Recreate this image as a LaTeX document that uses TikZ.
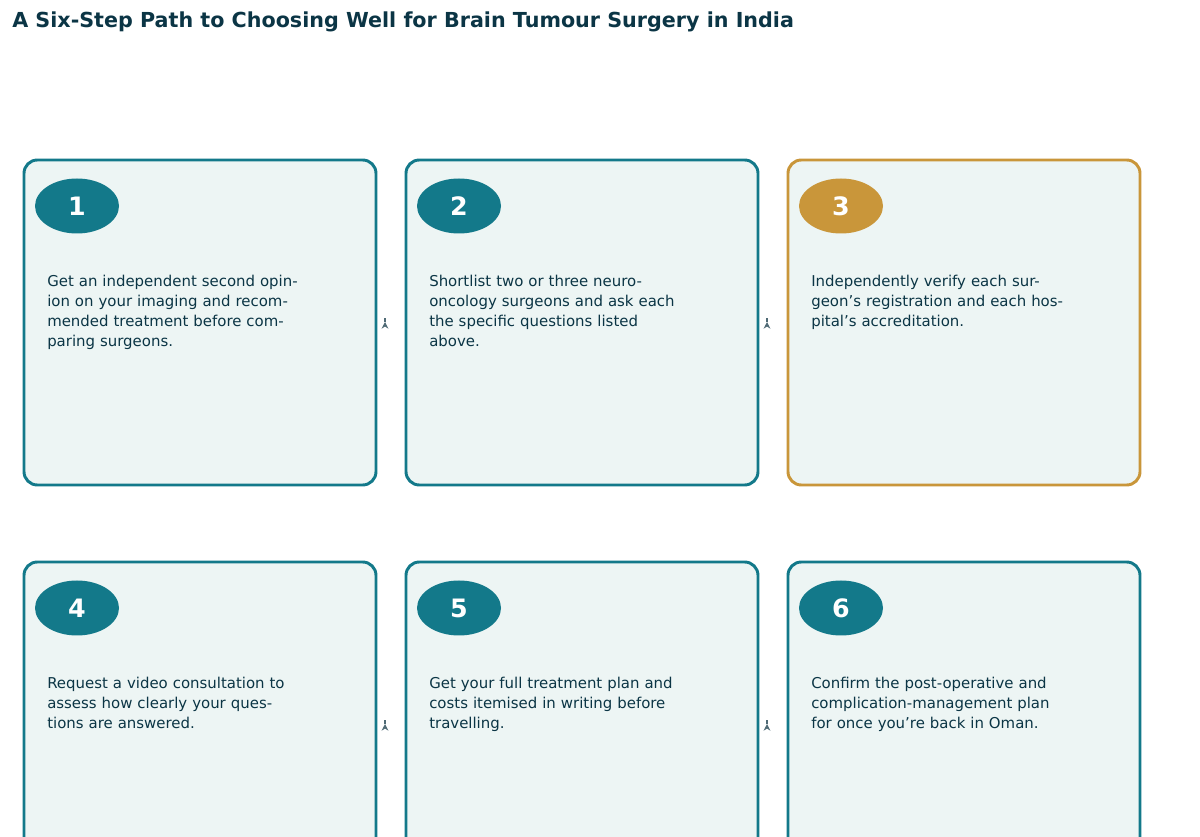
\documentclass[tikz,border=0pt]{standalone}
\usepackage{fontspec}
\setmainfont{DejaVu Sans}
\usetikzlibrary{shapes.geometric,arrows.meta}
\definecolor{teal}{HTML}{13798A}
\definecolor{gold}{HTML}{C9963A}
\definecolor{cardbg}{HTML}{EDF5F4}
\definecolor{ink}{HTML}{0B3545}
\definecolor{arr}{HTML}{4F6A75}
\begin{document}
\begin{tikzpicture}[x=0.75pt,y=-0.75pt,
 card/.style={draw=#1,line width=2.2pt,fill=cardbg,rounded corners=10pt},
 badge/.style={ellipse,fill=#1,minimum width=84*0.75pt,minimum height=55*0.75pt,inner sep=0pt,text=white,font=\bfseries\fontsize{19}{22}\selectfont},
 body/.style={anchor=north west,text width=255*0.75pt,align=left,text=ink,font=\fontsize{11.2}{15}\selectfont,inner sep=0pt},
 link/.style={-{Stealth[length=5pt,width=5pt]},draw=arr,line width=1.5pt}]
\useasboundingbox (0,0) rectangle (1200,837);
\clip (0,0) rectangle (1200,837);
\fill[white] (0,0) rectangle (1200,837);
\node[anchor=west,text=ink,font=\bfseries\fontsize{15.5}{18}\selectfont,inner sep=0pt] (title) at (12,22) {A Six-Step Path to Choosing Well for Brain Tumour Surgery in India};
\foreach \i/\x/\y/\c/\t in {
 1/24/160/teal/{Get an independent second opinion on your imaging and recommended treatment before comparing surgeons.},
 2/406/160/teal/{Shortlist two or three neuro-oncology surgeons and ask each the specific questions listed above.},
 3/788/160/gold/{Independently verify each surgeon's registration and each hospital's accreditation.},
 4/24/562/teal/{Request a video consultation to assess how clearly your questions are answered.},
 5/406/562/teal/{Get your full treatment plan and costs itemised in writing before travelling.},
 6/788/562/teal/{Confirm the post-operative and complication-management plan for once you're back in Oman.}}{
 \draw[card=\c] (\x,\y) rectangle ++(352,325) coordinate (e\i);
 \node[badge=\c] (b\i) at (\x+53,\y+46) {\i};
 \node[body] (t\i) at (\x+23,\y+115) {\t};
 \coordinate (l\i) at (\x-21,\y+162);
 \coordinate (r\i) at (\x+361,\y+162);
}
\draw[link] (r1) -- (l2);
\draw[link] (r2) -- (l3);
\draw[link] (r4) -- (l5);
\draw[link] (r5) -- (l6);
\end{tikzpicture}
\end{document}
